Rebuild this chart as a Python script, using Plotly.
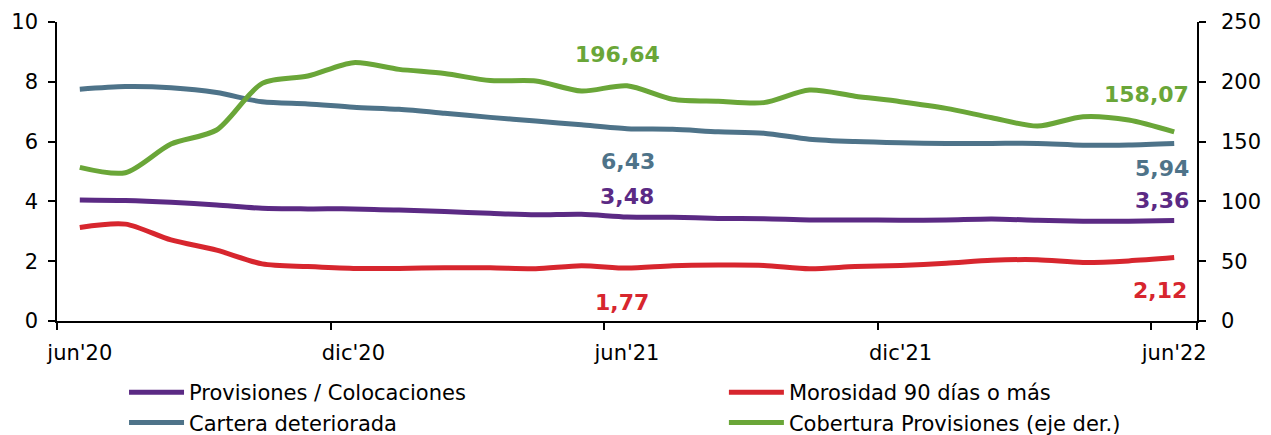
import plotly.graph_objects as go

months = ["jun'20", "jul'20", "ago'20", "sep'20", "oct'20", "nov'20", "dic'20",
          "ene'21", "feb'21", "mar'21", "abr'21", "may'21", "jun'21",
          "jul'21", "ago'21", "sep'21", "oct'21", "nov'21", "dic'21",
          "ene'22", "feb'22", "mar'22", "abr'22", "may'22", "jun'22"]
tick_labels = ["jun'20", "dic'20", "jun'21", "dic'21", "jun'22"]

provisiones = [4.05, 4.03, 3.97, 3.88, 3.77, 3.75, 3.75, 3.71, 3.66, 3.60, 3.55, 3.57, 3.48,
               3.47, 3.43, 3.42, 3.38, 3.38, 3.37, 3.38, 3.41, 3.37, 3.34, 3.34, 3.36]
morosidad = [3.13, 3.24, 2.71, 2.37, 1.91, 1.82, 1.76, 1.76, 1.78, 1.78, 1.75, 1.85, 1.77,
             1.85, 1.87, 1.86, 1.75, 1.82, 1.86, 1.93, 2.03, 2.05, 1.96, 2.01, 2.12]
cartera = [7.75, 7.84, 7.80, 7.64, 7.33, 7.26, 7.15, 7.08, 6.95, 6.81, 6.69, 6.56, 6.43,
           6.41, 6.33, 6.28, 6.08, 6.00, 5.96, 5.94, 5.94, 5.94, 5.88, 5.89, 5.94]
cobertura = [128.5, 124.0, 148.0, 159.7, 198.7, 204.8, 216.0, 210.4, 207.0, 201.0, 200.7, 192.3, 196.64,
             185.4, 183.7, 182.6, 193.1, 188.0, 183.4, 177.8, 170.0, 163.0, 170.8, 168.0, 158.07]

C_PROV = "#5B2A84"
C_MOR = "#D7262E"
C_CART = "#4E7389"
C_COB = "#6AA638"
FONT = "DejaVu Sans"

fig = go.Figure()
fig.add_trace(go.Scatter(x=months, y=provisiones, name="Provisiones / Colocaciones", mode="lines",
                         line=dict(color=C_PROV, width=5, shape="spline", smoothing=0.8), legend="legend"))
fig.add_trace(go.Scatter(x=months, y=morosidad, name="Morosidad 90 días o más", mode="lines",
                         line=dict(color=C_MOR, width=5, shape="spline", smoothing=0.8), legend="legend2"))
fig.add_trace(go.Scatter(x=months, y=cartera, name="Cartera deteriorada", mode="lines",
                         line=dict(color=C_CART, width=5, shape="spline", smoothing=0.8), legend="legend"))
fig.add_trace(go.Scatter(x=months, y=cobertura, name="Cobertura Provisiones (eje der.)", mode="lines",
                         line=dict(color=C_COB, width=5, shape="spline", smoothing=0.8), legend="legend2",
                         yaxis="y2"))

def fmt(v):
    return f"{v:.2f}".replace(".", ",")

labels = [
    # (series, color, index, yref, xshift, yshift, xanchor)
    (cobertura, C_COB, 12, "y2", -10, 31, "center"),
    (cartera, C_CART, 12, "y", 1, -33, "center"),
    (provisiones, C_PROV, 12, "y", 0, 20, "center"),
    (morosidad, C_MOR, 12, "y", -5, -34, "center"),
    (cobertura, C_COB, 24, "y2", 17, 37, "right"),
    (cartera, C_CART, 24, "y", 17, -25, "right"),
    (provisiones, C_PROV, 24, "y", 17, 20, "right"),
    (morosidad, C_MOR, 24, "y", 15, -33, "right"),
]
for series, color, idx, yref, xs, ys, xa in labels:
    fig.add_annotation(x=months[idx], y=series[idx], xref="x", yref=yref, text=f"<b>{fmt(series[idx])}</b>",
                       showarrow=False, xshift=xs, yshift=ys, xanchor=xa, yanchor="middle",
                       font=dict(family=FONT, size=22, color=color))

axis_common = dict(showline=True, linecolor="black", linewidth=1.5, ticks="outside", ticklen=7,
                   tickwidth=1.5, tickcolor="black", showgrid=False, zeroline=False, automargin=False,
                   tickfont=dict(family=FONT, size=21, color="black"))

# page body has an 8px margin, so the figure is sized to fit the 1271x435 window
fig.update_layout(
    width=1263, height=427,
    margin=dict(l=49, r=74, t=14, b=114, autoexpand=False),
    paper_bgcolor="white", plot_bgcolor="white",
    font=dict(family=FONT, size=21, color="black"),
    xaxis=dict(type="category", range=[-0.5, 24.5], tickvals=tick_labels, ticktext=tick_labels,
               tickson="boundaries", tickangle=0, ticklabelstandoff=12, **axis_common),
    yaxis=dict(range=[0, 10], dtick=2, ticklabelstandoff=6, **axis_common),
    yaxis2=dict(range=[0, 250], dtick=50, overlaying="y", side="right", ticklabelstandoff=11, **axis_common),
    legend=dict(x=0.0588, y=-0.1706, xanchor="left", yanchor="top", orientation="v",
                font=dict(family=FONT, size=21, color="black"), tracegroupgap=0, itemwidth=55,
                bgcolor="rgba(0,0,0,0)"),
    legend2=dict(x=0.585, y=-0.1706, xanchor="left", yanchor="top", orientation="v",
                 font=dict(family=FONT, size=21, color="black"), tracegroupgap=0, itemwidth=55,
                 bgcolor="rgba(0,0,0,0)"),
    showlegend=True,
)

fig.write_html("out.html")
